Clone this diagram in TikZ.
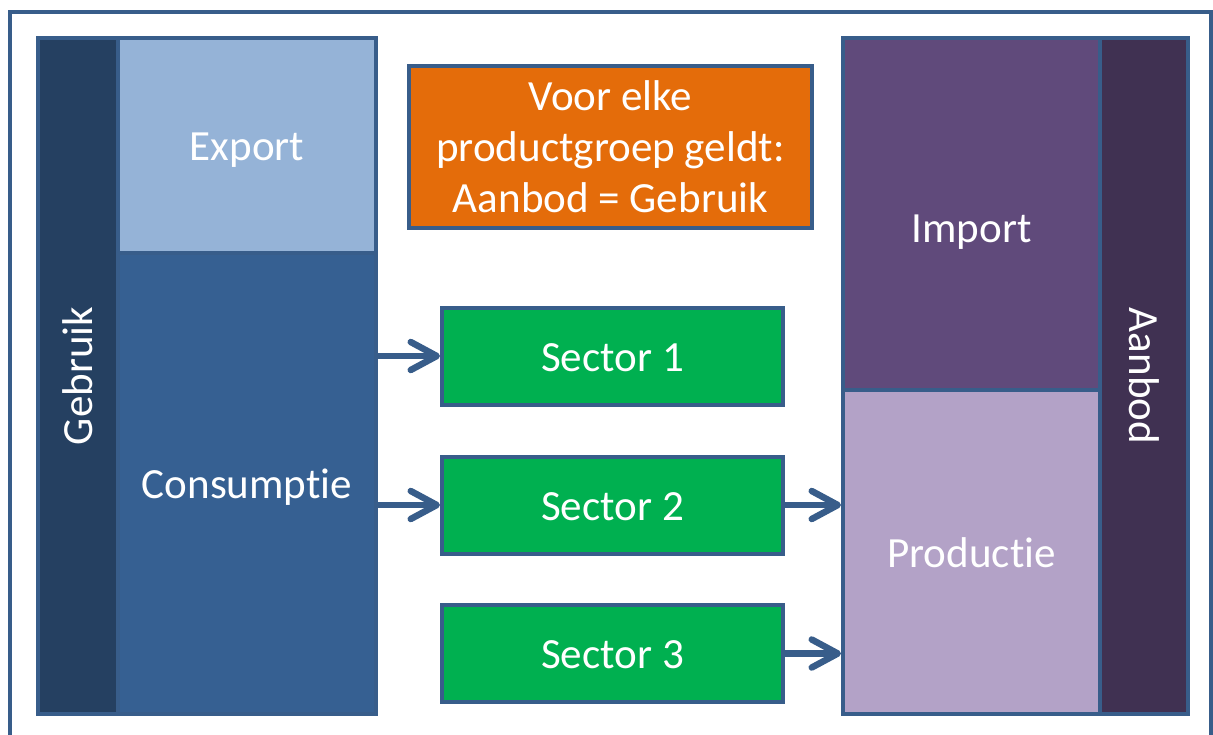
\documentclass[tikz,border=0pt]{standalone}
\usepackage{fontspec}
\setmainfont{Carlito}[Ligatures=NoCommon]
\usepackage{tikz}
\usetikzlibrary{arrows.meta}
\definecolor{rand}{HTML}{385D8A}
\definecolor{gebruikkleur}{HTML}{254061}
\definecolor{exportkleur}{HTML}{95B3D7}
\definecolor{consumptiekleur}{HTML}{366092}
\definecolor{oranje}{HTML}{E46C0A}
\definecolor{groen}{HTML}{00B050}
\definecolor{importkleur}{HTML}{604A7B}
\definecolor{productiekleur}{HTML}{B3A2C7}
\definecolor{aanbodkleur}{HTML}{403152}
\tikzset{blok/.style={draw=rand,line width=0.8mm,text=white,inner sep=0pt,
                      font=\fontsize{24.5}{29}\selectfont},
         regelhoogte/.style={text height=23.3pt,text depth=6.1pt},
         kader/.style={draw=rand,line width=0.8mm},
         flow/.style={draw=rand,line width=1.3mm,line cap=round,
                      -{Straight Barb[length=5.2mm,width=5.6mm,round]}}}

\begin{document}
\begin{tikzpicture}[x=0.2mm,y=-0.2mm]
\useasboundingbox(0,0) rectangle (1213,734);
\draw[kader](10,12) rectangle (1211,760);
\node[blok,fill=gebruikkleur,rotate=90,minimum width=135.2mm,minimum height=16mm] (gebruik) at (78,376) {Gebruik};
\node[blok,regelhoogte,fill=exportkleur,minimum width=51.6mm,minimum height=43mm] (export) at (247,145.5) {Export};
\node[blok,regelhoogte,fill=consumptiekleur,minimum width=51.6mm,minimum height=92.2mm] (consumptie) at (247,483.5) {Consumptie};
\node[blok,fill=oranje,align=center,minimum width=80.6mm,minimum height=32.4mm] (regel) at (610.5,147) {Voor elke\\productgroep geldt:\\Aanbod = Gebruik};
\foreach \n/\y in {1/356,2/505,3/653.5}
  \node[blok,regelhoogte,fill=groen,minimum width=68.2mm,minimum height=19.4mm] (s\n) at (612.5,\y) {Sector \n};
\node[blok,regelhoogte,fill=importkleur,minimum width=51.4mm,minimum height=70.4mm] (import) at (971.5,214) {\raisebox{-2.6mm}[\height][\depth]{Import}};
\node[blok,regelhoogte,fill=productiekleur,minimum width=51.4mm,minimum height=64.8mm] (productie) at (971.5,552) {Productie};
\node[blok,fill=aanbodkleur,rotate=-90,minimum width=135.2mm,minimum height=17.6mm] (aanbod) at (1144,376) {Aanbod};
\foreach \n in {1,2}
  \draw[flow](consumptie.east |- s\n.west) -- (s\n.west);
\foreach \n in {2,3}
  \draw[flow](s\n.east) -- (productie.west |- s\n.east);
\end{tikzpicture}
\end{document}
